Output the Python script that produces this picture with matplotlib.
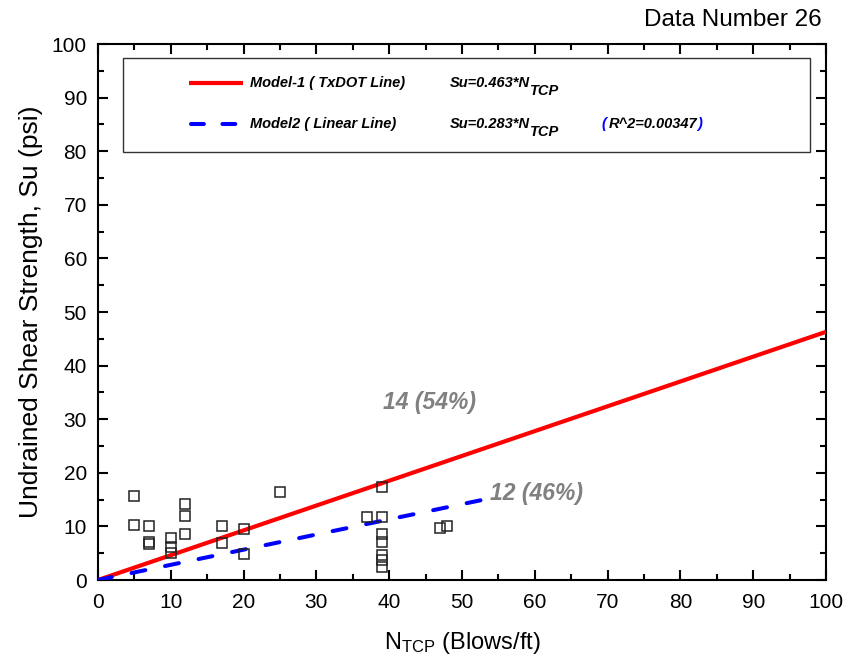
import matplotlib
matplotlib.use("Agg")
import matplotlib.pyplot as plt
from matplotlib.patches import Rectangle
from matplotlib.lines import Line2D
from matplotlib.ticker import MultipleLocator

plt.rcParams['font.family'] = ['Liberation Sans', 'DejaVu Sans']
plt.rcParams['mathtext.fontset'] = 'custom'
plt.rcParams['mathtext.rm'] = 'Liberation Sans'
plt.rcParams['mathtext.it'] = 'Liberation Sans:italic'
plt.rcParams['mathtext.bf'] = 'Liberation Sans:bold:italic'

# Data
n_tcp = [5, 5, 7, 7, 7, 10, 10, 10, 12, 12, 12, 17, 17, 20, 20, 25,
         39, 37, 39, 39, 39, 39, 39, 39, 47, 48]
su = [15.6, 10.3, 10.1, 7.1, 6.8, 7.9, 6.2, 5.0, 14.1, 11.9, 8.5, 10.1, 6.9, 9.6, 4.8, 16.4,
      17.3, 11.7, 11.8, 8.5, 7.1, 4.6, 3.7, 2.4, 9.7, 10.0]
model1_slope = 0.463
model2_slope = 0.283
model1_x = [0, 100]
model2_x = [0, 53]
title_text = "Data Number 26"
above_label = "14 (54%)"
below_label = "12 (46%)"

fig = plt.figure(figsize=(8.46, 6.64), dpi=100)
ax = fig.add_axes([98/846, 1-580/664, (826-98)/846, (580-44)/664])

ax.plot(model1_x, [model1_slope*x for x in model1_x], color='#ff0000', lw=3, solid_capstyle='butt', zorder=3)
l2, = ax.plot(model2_x, [model2_slope*x for x in model2_x], color='#0000ff', lw=2.9,
              dash_capstyle='round', zorder=3)
l2.set_dashes((3.5, 5.0))
ax.plot(n_tcp, su, linestyle='none', marker='s', markersize=7.5, markerfacecolor='none',
        markeredgecolor='#222222', markeredgewidth=1.1, zorder=4)

ax.set_xlim(0, 100)
ax.set_ylim(0, 100)
ax.xaxis.set_major_locator(MultipleLocator(10))
ax.yaxis.set_major_locator(MultipleLocator(10))
ax.xaxis.set_minor_locator(MultipleLocator(5))
ax.yaxis.set_minor_locator(MultipleLocator(5))
ax.tick_params(which='both', direction='in', top=True, right=True, width=1.5, labelsize=15, colors='black')
ax.tick_params(which='major', length=7)
ax.tick_params(which='minor', length=4)
ax.tick_params(axis='x', which='major', pad=9)
ax.tick_params(axis='y', which='major', pad=8)
for s in ax.spines.values():
    s.set_linewidth(1.5)

ax.set_xlabel(r"N$_{\mathregular{TCP}}$ (Blows/ft)", fontsize=17, labelpad=13)
ax.set_ylabel("Undrained Shear Strength, Su (psi)", fontsize=19, labelpad=6)

fig.text(822/846, 1-20/664, title_text, ha='right', va='center', fontsize=17.5)

ax.text(45.5, 33.2, above_label, color='#808080', fontsize=16.5, fontweight='bold', style='italic',
        ha='center', va='center')
ax.text(60.2, 16.2, below_label, color='#808080', fontsize=16.5, fontweight='bold', style='italic',
        ha='center', va='center')

# legend box (axes coordinates)
def ax_x(px):
    return (px - 98) / (826 - 98)
def ax_y(py):
    return (580 - py) / (580 - 44)

ax.add_patch(Rectangle((ax_x(123), ax_y(152)), ax_x(810) - ax_x(123), ax_y(58) - ax_y(152),
                       transform=ax.transAxes, fill=False, edgecolor='#333333', lw=1.0, zorder=5))
ax.add_line(Line2D([ax_x(189), ax_x(243)], [ax_y(83)]*2, transform=ax.transAxes,
                   color='#ff0000', lw=3, solid_capstyle='butt'))
lg2 = Line2D([ax_x(191), ax_x(241)], [ax_y(124)]*2, transform=ax.transAxes,
             color='#0000ff', lw=2.9, dash_capstyle='round')
lg2.set_dashes((3.2, 4.6))
ax.add_line(lg2)
lf = dict(fontsize=10.5, fontweight='bold', style='italic', va='center', transform=ax.transAxes)
ax.text(ax_x(250), ax_y(83), "Model-1 ( TxDOT Line)", **lf)
ax.text(ax_x(250), ax_y(124), "Model2 ( Linear Line)", **lf)
s1 = ax.text(ax_x(450), ax_y(83), "Su=0.463*N", **lf)
s2 = ax.text(ax_x(450), ax_y(124), "Su=0.283*N", **lf)
ax.text(ax_x(601), ax_y(124), "(", color='#0000ff', **lf)
r2 = ax.text(ax_x(609), ax_y(124), "R^2=0.00347", **lf)

fig.canvas.draw()
inv = ax.transAxes.inverted()
for s, py in ((s1, 83), (s2, 124)):
    bb = s.get_window_extent()
    xa = inv.transform((bb.x1, 0))[0]
    ax.text(xa, ax_y(py + 8), "TCP", **lf)
bb = r2.get_window_extent()
ax.text(inv.transform((bb.x1, 0))[0], ax_y(124), ")", color='#0000ff', **lf)

fig.savefig("out.png", dpi=100)
